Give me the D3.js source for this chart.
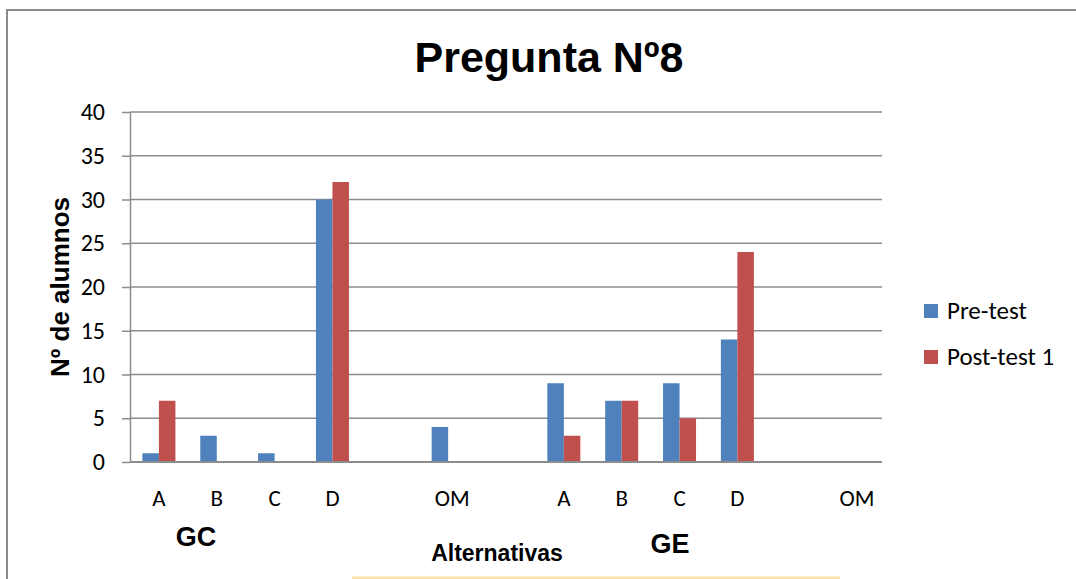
<!DOCTYPE html>
<html>
<head>
<meta charset="utf-8">
<script src="https://cdn.jsdelivr.net/npm/d3@7"></script>
<style>
  html, body { margin: 0; padding: 0; background: #fff; }
  svg { display: block; }
</style>
</head>
<body>
<svg id="chart" width="1076" height="579"></svg>
<script>
// Slots along the x axis: GC block, gap, OM, gap, GE block, gap, OM
const slots      = ["gcA", "gcB", "gcC", "gcD", "gap1", "gcOM", "gap2", "geA", "geB", "geC", "geD", "gap3", "geOM"];
const slotLabels = ["A", "B", "C", "D", "", "OM", "", "A", "B", "C", "D", "", "OM"];
const preTest    = [1, 3, 1, 30, 0, 4, 0, 9, 7, 9, 14, 0, 0];
const postTest1  = [7, 0, 0, 32, 0, 0, 0, 3, 7, 5, 24, 0, 0];
const seriesNames  = ["Pre-test", "Post-test 1"];
const seriesColors = ["#4f81bd", "#c0504d"];
const yTicks = [0, 5, 10, 15, 20, 25, 30, 35, 40];

const svg = d3.select("#chart");
const bodyFont = "Carlito, Calibri, Lato, 'Open Sans', sans-serif";
const boldFont = "Arial, 'Liberation Sans', Helvetica, sans-serif";

// outer frame (top and left edges)
svg.append("path")
  .attr("d", "M7,579 V10 H1076")
  .attr("fill", "none").attr("stroke", "#898989").attr("stroke-width", 2);

// thin pale strip along the bottom
svg.append("rect")
  .attr("x", 352).attr("y", 576.5).attr("width", 488).attr("height", 3)
  .attr("fill", "#fddfa5");

const plot = { left: 130, right: 882, top: 112, bottom: 462 };

const x = d3.scaleBand().domain(slots).range([plot.left, plot.right]).paddingInner(0).paddingOuter(0);
const barW = 16.5;
const y = d3.scaleLinear().domain([0, 40]).range([plot.bottom, plot.top]);

// gridlines
svg.append("g").selectAll("line").data(yTicks.filter(t => t > 0)).join("line")
  .attr("x1", plot.left).attr("x2", plot.right)
  .attr("y1", d => y(d)).attr("y2", d => y(d))
  .attr("stroke", "#8c8c8c").attr("stroke-width", 1.5);

// y axis
const yAxis = svg.append("g").attr("transform", `translate(${plot.left},0)`)
  .call(d3.axisLeft(y).tickValues(yTicks).tickSize(8).tickPadding(17).tickSizeOuter(0));
yAxis.select(".domain").attr("stroke", "#8c8c8c").attr("stroke-width", 1.5);
yAxis.selectAll(".tick line").attr("stroke", "#8c8c8c").attr("stroke-width", 1.5);
yAxis.selectAll(".tick text")
  .attr("font-family", bodyFont).attr("font-size", 24).attr("fill", "#000");

// bars
const series = [preTest, postTest1];
series.forEach((vals, si) => {
  svg.append("g").selectAll("rect").data(vals.map((v, i) => ({ key: slots[i], v })))
    .join("rect")
    .attr("x", d => x(d.key) + x.bandwidth() / 2 - barW + si * barW)
    .attr("y", d => y(d.v))
    .attr("width", barW)
    .attr("height", d => y(0) - y(d.v))
    .attr("fill", seriesColors[si]);
});

// x axis baseline
svg.append("line")
  .attr("x1", plot.left).attr("x2", plot.right)
  .attr("y1", y(0)).attr("y2", y(0))
  .attr("stroke", "#8c8c8c").attr("stroke-width", 2);

// x tick labels
svg.append("g").selectAll("text").data(slots).join("text")
  .attr("x", (d, i) => x(d) + x.bandwidth() / 2 + (slotLabels[i] === "OM" ? 4 : 0))
  .attr("y", 506)
  .attr("text-anchor", "middle")
  .attr("font-family", bodyFont).attr("font-size", 23).attr("fill", "#000")
  .text((d, i) => slotLabels[i]);

// group labels
svg.append("text").attr("x", 196).attr("y", 546).attr("text-anchor", "middle")
  .attr("font-family", boldFont).attr("font-weight", "bold").attr("font-size", 27).text("GC");
svg.append("text").attr("x", 670).attr("y", 553).attr("text-anchor", "middle")
  .attr("font-family", boldFont).attr("font-weight", "bold").attr("font-size", 27).text("GE");

// axis titles
svg.append("text").attr("x", 497).attr("y", 561).attr("text-anchor", "middle")
  .attr("font-family", boldFont).attr("font-weight", "bold").attr("font-size", 23).text("Alternativas");
svg.append("text")
  .attr("transform", "translate(69,287) rotate(-90)")
  .attr("text-anchor", "middle")
  .attr("font-family", boldFont).attr("font-weight", "bold").attr("font-size", 26).text("Nº de alumnos");

// title
svg.append("text").attr("x", 549).attr("y", 72).attr("text-anchor", "middle")
  .attr("font-family", boldFont).attr("font-weight", "bold").attr("font-size", 43).text("Pregunta Nº8");

// legend
const legend = svg.append("g");
seriesNames.forEach((name, i) => {
  const ly = 311 + i * 46;
  legend.append("rect").attr("x", 924).attr("y", ly - 7).attr("width", 14).attr("height", 14)
    .attr("fill", seriesColors[i]);
  legend.append("text").attr("x", 947).attr("y", ly + 8)
    .attr("font-family", bodyFont).attr("font-size", 25).attr("fill", "#000").text(name);
});
</script>
</body>
</html>
